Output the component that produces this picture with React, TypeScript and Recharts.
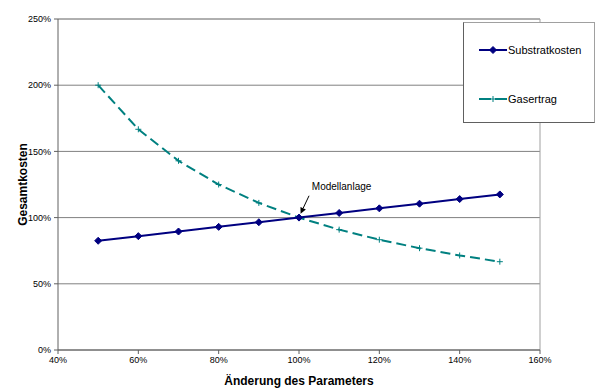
import React from 'react';
import {
  LineChart,
  Line,
  XAxis,
  YAxis,
  CartesianGrid,
  ReferenceLine,
  ReferenceDot,
  Legend,
} from 'recharts';

const params = [50, 60, 70, 80, 90, 100, 110, 120, 130, 140, 150];
const substratkosten = [82.5, 86, 89.5, 93, 96.5, 100, 103.5, 107, 110.5, 114, 117.5];
const gasertrag = [200, 166.7, 142.9, 125, 111.1, 100, 90.9, 83.3, 76.9, 71.4, 66.7];
const xTicks = [40, 60, 80, 100, 120, 140, 160];
const yTicks = [0, 50, 100, 150, 200, 250];

const chartData = params.map((p, i) => ({
  param: p,
  substratkosten: substratkosten[i],
  gasertrag: gasertrag[i],
}));

const FONT = 'Arial, "Liberation Sans", sans-serif';
const NAVY = '#000080';
const TEAL = '#008080';

const Diamond = (props: any) => {
  const { cx, cy } = props;
  if (cx == null || cy == null) return null;
  const r = 3.5;
  return (
    <polygon
      points={`${cx},${cy - r} ${cx + r},${cy} ${cx},${cy + r} ${cx - r},${cy}`}
      fill={NAVY}
      stroke={NAVY}
    />
  );
};

const Plus = (props: any) => {
  const { cx, cy } = props;
  if (cx == null || cy == null) return null;
  const r = 3;
  return (
    <g stroke={TEAL} strokeWidth={1}>
      <line x1={cx - r} y1={cy} x2={cx + r} y2={cy} />
      <line x1={cx} y1={cy - r} x2={cx} y2={cy + r} />
    </g>
  );
};

const Arrow = (props: any) => {
  const { x1, y1, x2, y2 } = props;
  const ang = Math.atan2(y2 - y1, x2 - x1);
  const len = 6;
  const w = 3;
  const bx = x2 - len * Math.cos(ang);
  const by = y2 - len * Math.sin(ang);
  const px = -Math.sin(ang) * w;
  const py = Math.cos(ang) * w;
  return (
    <g>
      <line x1={x1} y1={y1} x2={bx} y2={by} stroke="#000" strokeWidth={1} />
      <polygon points={`${x2},${y2} ${bx + px},${by + py} ${bx - px},${by - py}`} fill="#000" />
    </g>
  );
};

const LegendBox = () => (
  <div
    style={{
      width: 130,
      height: 99,
      background: '#fff',
      borderLeft: '1px solid #606060',
      borderBottom: '1px solid #606060',
      borderTop: '1px solid #a0a0a0',
      borderRight: '1px solid #a0a0a0',
      position: 'relative',
      fontFamily: FONT,
      fontSize: 11,
    }}
  >
    <svg width={130} height={99} style={{ position: 'absolute', left: 0, top: 0 }}>
      <line x1={15} y1={27} x2={43} y2={27} stroke={NAVY} strokeWidth={2} />
      <Diamond cx={29} cy={27} />
      <text x={44} y={31} fontSize={11} fontFamily={FONT} fill="#000">
        Substratkosten
      </text>
      <line x1={15} y1={76} x2={43} y2={76} stroke={TEAL} strokeWidth={2} strokeDasharray="12 4" />
      <Plus cx={29} cy={76} />
      <text x={44} y={80} fontSize={11} fontFamily={FONT} fill="#000">
        Gasertrag
      </text>
    </svg>
  </div>
);

const ModellLabel = (props: any) => {
  const { viewBox } = props;
  return (
    <text x={viewBox.x} y={viewBox.y} fontSize={10} fontFamily={FONT} fill="#000">
      Modellanlage
    </text>
  );
};

export default function App() {
  return (
    <div style={{ position: 'absolute', left: 0, top: 0, background: '#fff' }}>
      <LineChart
        width={600}
        height={390}
        data={chartData}
        margin={{ top: 19, right: 60, bottom: 0, left: 0 }}
      >
        <CartesianGrid horizontal vertical={false} stroke="#808080" strokeDasharray="" />
        <XAxis
          dataKey="param"
          type="number"
          domain={[40, 160]}
          ticks={xTicks}
          tickFormatter={(v) => `${v}%`}
          height={40}
          stroke="#606060"
          tickSize={4}
          tickMargin={3}
          tick={{ fontSize: 9, fill: '#000', fontFamily: FONT }}
          label={{
            value: 'Änderung des Parameters',
            position: 'insideBottom',
            offset: 5,
            style: { fontSize: 12, fontWeight: 'bold', fill: '#000', fontFamily: FONT },
          }}
        />
        <YAxis
          type="number"
          domain={[0, 250]}
          ticks={yTicks}
          tickFormatter={(v) => `${v}%`}
          width={58}
          stroke="#606060"
          tickSize={4}
          tickMargin={3}
          tick={{ fontSize: 9, fill: '#000', fontFamily: FONT }}
          label={{
            value: 'Gesamtkosten',
            angle: -90,
            position: 'insideLeft',
            offset: 23,
            style: { fontSize: 12, fontWeight: 'bold', fill: '#000', fontFamily: FONT, textAnchor: 'middle' },
          }}
        />
        <ReferenceLine x={160} stroke="#a0a0a0" />
        <ReferenceLine y={250} stroke="#a0a0a0" />
        <Line
          dataKey="gasertrag"
          stroke={TEAL}
          strokeWidth={2}
          strokeDasharray="10 5"
          dot={<Plus />}
          activeDot={false}
          isAnimationActive={false}
        />
        <Line
          dataKey="substratkosten"
          stroke={NAVY}
          strokeWidth={2}
          dot={<Diamond />}
          activeDot={false}
          isAnimationActive={false}
        />
        <ReferenceLine
          segment={[
            { x: 102.5, y: 116.5 },
            { x: 100.4, y: 103 },
          ]}
          shape={<Arrow />}
        />
        <ReferenceDot x={103.2} y={120.5} r={0} fill="none" stroke="none" label={<ModellLabel />} />
        <Legend
          layout="vertical"
          align="center"
          verticalAlign="middle"
          wrapperStyle={{ left: 463, top: 22, width: 132, height: 101 }}
          content={() => <LegendBox />}
        />
      </LineChart>
    </div>
  );
}
